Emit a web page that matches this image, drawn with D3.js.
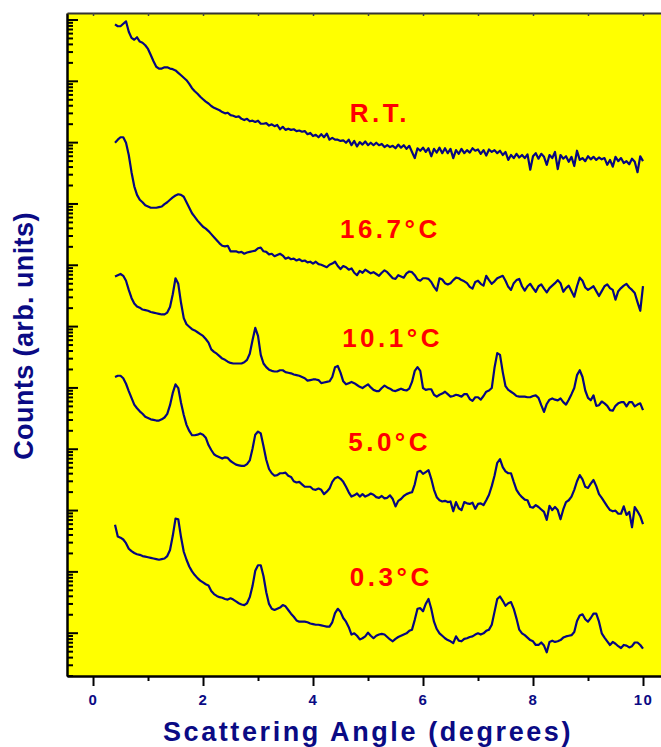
<!DOCTYPE html>
<html>
<head>
<meta charset="utf-8">
<script src="https://cdnjs.cloudflare.com/ajax/libs/d3/7.8.5/d3.min.js"></script>
<style>
  html, body { margin: 0; padding: 0; background: #ffffff; }
  svg { display: block; }
  text { font-family: "Liberation Sans", Arial, Helvetica, sans-serif; font-weight: bold; }
</style>
</head>
<body>
<svg id="chart" width="661" height="747"></svg>
<script>
// Scan grid (degrees): every series is sampled from 0.40 deg in 0.05 deg steps
const angleStart = 0.40;
const angleStep = 0.05;

// log10 of scattered intensity, stacked curves (arb. units)
const logRT = [
  9.92, 9.89, 9.89, 9.93, 9.97, 9.80, 9.70, 9.67, 9.71, 9.64,
  9.62, 9.58, 9.52, 9.42, 9.32, 9.23, 9.20, 9.20, 9.22, 9.22,
  9.20, 9.19, 9.17, 9.13, 9.09, 9.05, 9.01, 8.95, 8.88, 8.83,
  8.79, 8.74, 8.70, 8.66, 8.63, 8.59, 8.56, 8.54, 8.52, 8.49,
  8.47, 8.48, 8.44, 8.43, 8.41, 8.42, 8.38, 8.36, 8.38, 8.34,
  8.35, 8.33, 8.35, 8.30, 8.30, 8.31, 8.27, 8.29, 8.26, 8.28,
  8.21, 8.25, 8.20, 8.22, 8.20, 8.21, 8.18, 8.19, 8.17, 8.18,
  8.13, 8.15, 8.10, 8.12, 8.08, 8.13, 8.08, 8.14, 8.04, 8.07,
  8.04, 8.04, 8.02, 8.03, 7.99, 8.04, 7.95, 8.02, 7.93, 8.00,
  7.96, 8.01, 7.95, 7.99, 7.95, 7.99, 7.95, 7.97, 7.92, 7.95,
  7.92, 7.94, 7.90, 7.96, 7.91, 7.95, 7.89, 7.94, 7.84, 7.74,
  7.90, 7.86, 7.91, 7.84, 7.90, 7.77, 7.89, 7.83, 7.91, 7.82,
  7.90, 7.82, 7.89, 7.74, 7.87, 7.81, 7.89, 7.82, 7.87, 7.83,
  7.90, 7.86, 7.88, 7.81, 7.87, 7.78, 7.88, 7.84, 7.87, 7.82,
  7.86, 7.79, 7.84, 7.71, 7.79, 7.74, 7.81, 7.75, 7.79, 7.74,
  7.80, 7.55, 7.77, 7.82, 7.73, 7.81, 7.76, 7.63, 7.79, 7.74,
  7.84, 7.56, 7.79, 7.73, 7.77, 7.68, 7.76, 7.61, 7.86, 7.71,
  7.74, 7.69, 7.77, 7.72, 7.76, 7.71, 7.75, 7.72, 7.74, 7.63,
  7.71, 7.60, 7.76, 7.69, 7.74, 7.66, 7.69, 7.64, 7.73, 7.68,
  7.51, 7.77, 7.69
];

const log167 = [
  7.99, 8.04, 8.08, 8.08, 7.99, 7.79, 7.51, 7.28, 7.14, 7.06,
  7.02, 6.97, 6.95, 6.93, 6.93, 6.93, 6.94, 6.95, 6.99, 7.02,
  7.06, 7.10, 7.13, 7.15, 7.14, 7.11, 7.02, 6.93, 6.84, 6.78,
  6.72, 6.67, 6.62, 6.59, 6.55, 6.50, 6.45, 6.40, 6.35, 6.31,
  6.30, 6.31, 6.22, 6.22, 6.22, 6.20, 6.21, 6.18, 6.20, 6.21,
  6.22, 6.23, 6.27, 6.28, 6.22, 6.21, 6.17, 6.18, 6.14, 6.16,
  6.18, 6.15, 6.10, 6.12, 6.09, 6.10, 6.07, 6.09, 6.06, 6.07,
  6.04, 6.05, 6.02, 6.05, 6.01, 6.00, 5.98, 5.96, 6.00, 6.02,
  6.05, 5.98, 5.93, 5.98, 5.96, 5.92, 5.94, 5.87, 5.83, 5.90,
  5.87, 5.92, 5.89, 5.86, 5.88, 5.85, 5.82, 5.87, 5.91, 5.88,
  5.83, 5.78, 5.77, 5.83, 5.81, 5.79, 5.86, 5.89, 5.88, 5.83,
  5.76, 5.74, 5.78, 5.78, 5.77, 5.72, 5.64, 5.58, 5.78, 5.76,
  5.70, 5.68, 5.70, 5.75, 5.79, 5.78, 5.75, 5.73, 5.70, 5.64,
  5.61, 5.72, 5.74, 5.69, 5.66, 5.82, 5.75, 5.69, 5.73, 5.78,
  5.80, 5.82, 5.74, 5.64, 5.59, 5.70, 5.75, 5.77, 5.65, 5.58,
  5.65, 5.69, 5.62, 5.56, 5.65, 5.68, 5.61, 5.55, 5.62, 5.66,
  5.70, 5.75, 5.70, 5.56, 5.62, 5.66, 5.57, 5.48, 5.65, 5.79,
  5.74, 5.63, 5.59, 5.62, 5.65, 5.57, 5.49, 5.57, 5.65, 5.68,
  5.62, 5.59, 5.43, 5.57, 5.62, 5.66, 5.69, 5.63, 5.59, 5.54,
  5.39, 5.25, 5.65
];

const log101 = [
  5.81, 5.83, 5.85, 5.82, 5.74, 5.59, 5.46, 5.37, 5.32, 5.30,
  5.27, 5.26, 5.25, 5.23, 5.22, 5.21, 5.20, 5.19, 5.19, 5.22,
  5.31, 5.52, 5.78, 5.69, 5.38, 5.13, 5.03, 4.99, 4.95, 4.93,
  4.90, 4.87, 4.84, 4.79, 4.73, 4.62, 4.58, 4.55, 4.51, 4.47,
  4.45, 4.42, 4.40, 4.39, 4.39, 4.39, 4.39, 4.41, 4.45, 4.55,
  4.77, 4.97, 4.84, 4.53, 4.39, 4.33, 4.29, 4.27, 4.26, 4.26,
  4.28, 4.28, 4.25, 4.24, 4.23, 4.21, 4.20, 4.19, 4.17, 4.15,
  4.11, 4.12, 4.13, 4.13, 4.12, 4.07, 4.08, 4.09, 4.10, 4.17,
  4.33, 4.35, 4.24, 4.10, 4.05, 4.07, 4.09, 4.07, 4.04, 4.01,
  3.99, 4.02, 4.05, 4.00, 3.96, 3.94, 3.94, 3.99, 4.03, 4.00,
  3.98, 3.95, 3.94, 3.96, 3.98, 3.96, 3.95, 3.98, 4.09, 4.27,
  4.33, 4.27, 3.99, 3.96, 3.97, 3.97, 3.88, 3.85, 3.88, 3.90,
  3.93, 3.89, 3.85, 3.86, 3.88, 3.87, 3.85, 3.89, 3.89, 3.81,
  3.78, 3.84, 3.84, 3.80, 3.86, 3.93, 3.95, 3.99, 4.32, 4.56,
  4.53, 4.25, 4.02, 3.96, 3.93, 3.90, 3.86, 3.85, 3.85, 3.85,
  3.84, 3.84, 3.86, 3.87, 3.83, 3.71, 3.60, 3.73, 3.80, 3.82,
  3.80, 3.79, 3.82, 3.76, 3.72, 3.80, 3.89, 3.99, 4.20, 4.28,
  4.17, 3.95, 3.83, 3.79, 3.87, 3.70, 3.71, 3.77, 3.74, 3.70,
  3.63, 3.62, 3.70, 3.74, 3.76, 3.76, 3.69, 3.76, 3.76, 3.69,
  3.72, 3.74, 3.63
];

const log50 = [
  4.17, 4.19, 4.19, 4.15, 4.06, 3.94, 3.83, 3.72, 3.66, 3.61,
  3.57, 3.52, 3.50, 3.48, 3.47, 3.46, 3.46, 3.48, 3.51, 3.57,
  3.71, 3.91, 4.05, 3.99, 3.75, 3.55, 3.39, 3.29, 3.22, 3.22,
  3.23, 3.25, 3.23, 3.18, 3.06, 2.98, 2.91, 2.88, 2.86, 2.84,
  2.86, 2.85, 2.80, 2.77, 2.74, 2.73, 2.72, 2.72, 2.75, 2.81,
  3.00, 3.23, 3.28, 3.25, 3.04, 2.82, 2.67, 2.60, 2.56, 2.57,
  2.60, 2.60, 2.61, 2.56, 2.54, 2.47, 2.45, 2.46, 2.42, 2.38,
  2.38, 2.38, 2.34, 2.33, 2.35, 2.33, 2.26, 2.30, 2.35, 2.46,
  2.52, 2.54, 2.51, 2.46, 2.38, 2.29, 2.22, 2.24, 2.27, 2.22,
  2.26, 2.22, 2.24, 2.27, 2.25, 2.21, 2.20, 2.23, 2.19, 2.20,
  2.24, 2.18, 2.06, 2.15, 2.18, 2.23, 2.26, 2.28, 2.29, 2.42,
  2.62, 2.64, 2.59, 2.62, 2.65, 2.51, 2.33, 2.21, 2.16, 2.14,
  2.15, 2.13, 2.14, 1.98, 2.13, 2.03, 2.00, 2.13, 2.11, 2.10,
  2.12, 2.02, 2.10, 2.11, 2.08, 2.16, 2.25, 2.39, 2.56, 2.77,
  2.83, 2.70, 2.63, 2.60, 2.60, 2.46, 2.33, 2.26, 2.21, 2.17,
  2.16, 2.05, 2.04, 2.08, 2.05, 2.01, 1.97, 1.84, 2.07, 2.00,
  2.05, 2.00, 1.85, 2.01, 2.13, 2.16, 2.22, 2.33, 2.47, 2.57,
  2.50, 2.38, 2.36, 2.43, 2.49, 2.39, 2.26, 2.20, 2.13, 2.06,
  2.00, 1.98, 1.99, 1.94, 1.94, 2.06, 1.92, 1.97, 1.72, 2.05,
  1.98, 1.90, 1.77
];

const log03 = [
  1.76, 1.57, 1.55, 1.52, 1.46, 1.37, 1.33, 1.30, 1.28, 1.27,
  1.25, 1.24, 1.23, 1.22, 1.21, 1.20, 1.19, 1.20, 1.21, 1.25,
  1.35, 1.58, 1.86, 1.85, 1.56, 1.32, 1.19, 1.08, 1.00, 0.94,
  0.89, 0.85, 0.82, 0.79, 0.77, 0.68, 0.63, 0.60, 0.58, 0.57,
  0.55, 0.54, 0.56, 0.54, 0.51, 0.48, 0.46, 0.45, 0.48, 0.58,
  0.76, 1.01, 1.10, 1.10, 0.92, 0.66, 0.47, 0.39, 0.37, 0.39,
  0.41, 0.45, 0.43, 0.37, 0.31, 0.26, 0.20, 0.18, 0.18, 0.18,
  0.17, 0.15, 0.14, 0.13, 0.13, 0.12, 0.11, 0.10, 0.10, 0.17,
  0.32, 0.39, 0.34, 0.24, 0.18, 0.09, -0.03, -0.01, -0.05, -0.11,
  -0.09, -0.06, 0.00, -0.05, -0.09, -0.05, -0.03, -0.02, -0.03, -0.07,
  -0.11, -0.14, -0.10, -0.07, -0.05, -0.03, -0.01, 0.03, 0.05, 0.21,
  0.39, 0.40, 0.35, 0.47, 0.55, 0.39, 0.18, 0.06, -0.01, -0.05,
  -0.09, -0.12, -0.14, -0.17, -0.06, -0.13, -0.14, -0.10, -0.09, -0.07,
  -0.06, -0.03, -0.01, -0.03, -0.01, 0.03, 0.05, 0.13, 0.34, 0.55,
  0.59, 0.52, 0.44, 0.48, 0.50, 0.39, 0.23, 0.05, -0.01, -0.04,
  -0.08, -0.12, -0.14, -0.20, -0.20, -0.16, -0.21, -0.32, -0.15, -0.13,
  -0.15, -0.14, -0.12, -0.08, -0.06, -0.05, -0.04, 0.01, 0.19, 0.28,
  0.30, 0.22, 0.18, 0.24, 0.31, 0.31, 0.18, -0.01, -0.08, -0.14,
  -0.20, -0.15, -0.18, -0.22, -0.25, -0.20, -0.21, -0.24, -0.22, -0.16,
  -0.16, -0.20, -0.26
];

// Curve labels (temperatures) and where each label sits, in data units
const seriesLabels = ["R.T.", "16.7\u00B0C", "10.1\u00B0C", "5.0\u00B0C", "0.3\u00B0C"];
const labelAngle = [4.67, 4.49, 4.53, 4.64, 4.67];
const labelLogI = [8.33, 6.44, 4.66, 2.96, 0.76];

// Axis ticks
const xMajorTicks = [0, 2, 4, 6, 8, 10];
const xMinorTicks = [1, 3, 5, 7, 9];
const xTopTicks = [0, 1, 2, 3, 4, 5, 6, 7, 8, 9, 10];
const yDecades = [0, 1, 2, 3, 4, 5, 6, 7, 8, 9, 10];

const xTitle = "Scattering Angle (degrees)";
const yTitle = "Counts (arb. units)";

// ---------------------------------------------------------------
const W = 661, H = 747;
const plot = { left: 67, right: 670.5, top: 13, bottom: 676 };
const navy = "#0a0a84";
const curveColor = "#06067f";

const svg = d3.select("#chart");

const x = d3.scaleLinear().domain([-0.473, 10.5]).range([plot.left, plot.right]);
const y = d3.scaleLog().domain([Math.pow(10, -0.706), Math.pow(10, 10.106)]).range([plot.bottom, plot.top]);

// plot background
svg.append("rect")
  .attr("x", plot.left).attr("y", plot.top)
  .attr("width", plot.right - plot.left).attr("height", plot.bottom - plot.top)
  .attr("fill", "#ffff00");

// curves
const line = d3.line()
  .x(d => x(d[0]))
  .y(d => y(Math.pow(10, d[1])));

const allSeries = [logRT, log167, log101, log50, log03];
allSeries.forEach(vals => {
  const pts = vals.map((v, i) => [angleStart + i * angleStep, v]);
  svg.append("path")
    .datum(pts)
    .attr("fill", "none")
    .attr("stroke", curveColor)
    .attr("stroke-width", 2.2)
    .attr("stroke-linejoin", "round")
    .attr("d", line);
});

// curve labels
svg.append("g").selectAll("text")
  .data(seriesLabels)
  .join("text")
  .attr("x", (d, i) => x(labelAngle[i]))
  .attr("y", (d, i) => y(Math.pow(10, labelLogI[i])))
  .attr("fill", "#ff0000")
  .attr("font-size", 26)
  .attr("letter-spacing", 3.5)
  .text(d => d);

// left axis: log ticks pointing inward
const yMinorVals = [];
for (let n = -1; n <= 10; n++) {
  for (let k = 2; k <= 9; k++) {
    const v = k * Math.pow(10, n);
    if (v > y.domain()[0] && v < y.domain()[1]) yMinorVals.push(v);
  }
}
const yMajorVals = yDecades.map(n => Math.pow(10, n));

function styleAxis(g, width) {
  g.selectAll(".domain").attr("stroke", "#000").attr("stroke-width", width);
  g.selectAll(".tick line").attr("stroke", "#000").attr("stroke-width", 2);
}

const gyMinor = svg.append("g")
  .attr("transform", `translate(${plot.left},0)`)
  .call(d3.axisLeft(y).tickValues(yMinorVals).tickSize(-6).tickSizeOuter(0).tickFormat(""));
styleAxis(gyMinor, 0);
const gyMajor = svg.append("g")
  .attr("transform", `translate(${plot.left},0)`)
  .call(d3.axisLeft(y).tickValues(yMajorVals).tickSize(-11).tickSizeOuter(0).tickFormat(""));
styleAxis(gyMajor, 2.5);

// top axis
const gTop = svg.append("g")
  .attr("transform", `translate(0,${plot.top})`)
  .call(d3.axisTop(x).tickValues(xTopTicks).tickSize(-3).tickSizeOuter(0).tickFormat(""));
gTop.selectAll(".domain").attr("stroke", "#333").attr("stroke-width", 2);
gTop.selectAll(".tick line").attr("stroke", "#444").attr("stroke-width", 1.5);

// bottom axis
const gxMinor = svg.append("g")
  .attr("transform", `translate(0,${plot.bottom})`)
  .call(d3.axisBottom(x).tickValues(xMinorTicks).tickSize(5).tickSizeOuter(0).tickFormat(""));
styleAxis(gxMinor, 0);
const gxMajor = svg.append("g")
  .attr("transform", `translate(0,${plot.bottom})`)
  .call(d3.axisBottom(x).tickValues(xMajorTicks).tickSize(10).tickSizeOuter(0).tickFormat(d3.format("d")));
styleAxis(gxMajor, 2.5);
gxMajor.selectAll(".tick text")
  .attr("y", 29).attr("dy", null)
  .attr("fill", navy)
  .attr("font-size", 15)
  .attr("font-weight", "bold")
  .attr("letter-spacing", 1.5)
  .attr("font-family", "Liberation Sans, Arial, sans-serif");

// axis titles
svg.append("text")
  .attr("x", 368).attr("y", 741)
  .attr("text-anchor", "middle")
  .attr("fill", navy)
  .attr("font-size", 27)
  .attr("letter-spacing", 2.6)
  .text(xTitle);

svg.append("text")
  .attr("transform", "translate(33,336) rotate(-90)")
  .attr("text-anchor", "middle")
  .attr("fill", navy)
  .attr("font-size", 27)
  .attr("letter-spacing", 0.4)
  .text(yTitle);
</script>
</body>
</html>
